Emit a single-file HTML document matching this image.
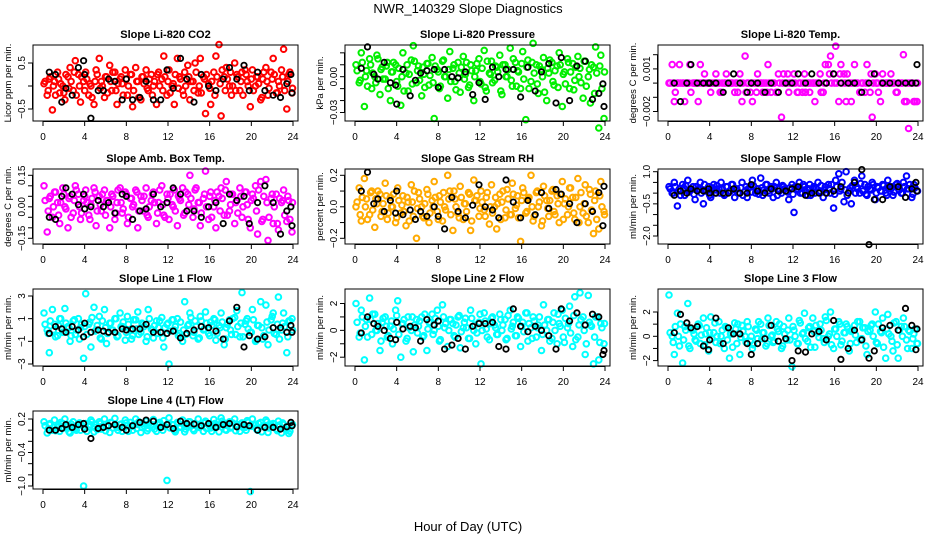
<!DOCTYPE html>
<html><head><meta charset="utf-8">
<style>
html,body{margin:0;padding:0;background:#fff;}
svg{display:block;font-family:"Liberation Sans",Arial,sans-serif;}
</style></head>
<body>
<svg id="chart" width="936" height="540" viewBox="0 0 936 540">
<text x="468" y="13" text-anchor="middle" font-size="13">NWR_140329  Slope Diagnostics</text>
<text x="468" y="531" text-anchor="middle" font-size="13">Hour of Day (UTC)</text>
</svg>
<script>
const hours = [0.1,0.4,0.6,0.9,1.1,1.4,1.6,1.9,2.1,2.4,2.6,2.9,3.1,3.4,3.6,3.9,4.1,4.4,4.6,4.9,5.1,5.4,5.6,5.9,6.1,6.4,6.6,6.9,7.1,7.4,7.6,7.9,8.1,8.4,8.6,8.9,9.1,9.4,9.6,9.9,10.1,10.4,10.6,10.9,11.1,11.4,11.6,11.9,12.1,12.4,12.6,12.9,13.1,13.4,13.6,13.9,14.1,14.4,14.6,14.9,15.1,15.4,15.6,15.9,16.1,16.4,16.6,16.9,17.1,17.4,17.6,17.9,18.1,18.4,18.6,18.9,19.1,19.4,19.6,19.9,20.1,20.4,20.6,20.9,21.1,21.4,21.6,21.9,22.1,22.4,22.6,22.9,23.1,23.4,23.6,23.9];
const hours2 = [0.2,0.5,0.7,1.0,1.2,1.5,1.7,2.0,2.2,2.5,2.7,3.0,3.2,3.5,3.7,4.0,4.2,4.5,4.7,5.0,5.2,5.5,5.7,6.0,6.2,6.5,6.7,7.0,7.2,7.5,7.7,8.0,8.2,8.5,8.7,9.0,9.2,9.5,9.7,10.0,10.2,10.5,10.7,11.0,11.2,11.5,11.7,12.0,12.2,12.5,12.7,13.0,13.2,13.5,13.7,14.0,14.2,14.5,14.7,15.0,15.2,15.5,15.7,16.0,16.2,16.5,16.7,17.0,17.2,17.5,17.7,18.0,18.2,18.5,18.7,19.0,19.2,19.5,19.7,20.0,20.2,20.5,20.7,21.0,21.2,21.5,21.7,22.0,22.2,22.5,22.7,23.0,23.2,23.5,23.7,23.95];
const refHours = [0.6,1.2,1.8,2.2,2.8,3.4,3.9,4.0,4.6,5.3,5.8,6.3,6.9,7.6,8.0,8.6,9.3,9.9,10.6,11.3,11.9,12.5,13.2,13.8,14.5,15.2,15.9,16.6,17.3,17.9,18.6,19.3,19.8,20.6,21.3,22.1,22.8,23.4,23.8,23.9];
const xTicks = [0,4,8,12,16,20,24];

const co2 = [0.05,-0.2,0.15,-0.52,0.1,0.3,-0.15,0.0,-0.3,0.2,0.4,-0.1,0.55,0.25,-0.35,0.1,0.3,-0.2,0.0,-0.4,0.35,0.6,0.1,-0.25,0.2,0.45,-0.1,0.3,-0.4,0.15,0.05,0.35,-0.2,0.25,-0.45,0.4,0.1,-0.3,0.2,0.35,-0.1,0.25,0.0,-0.4,0.3,0.15,0.65,-0.2,0.35,0.0,-0.4,0.6,0.2,-0.1,0.3,0.45,-0.3,0.1,0.5,-0.15,0.6,0.2,-0.6,0.05,-0.4,0.3,0.65,0.9,-0.65,0.2,0.4,0.0,-0.2,0.5,0.25,-0.1,0.3,0.35,0.1,-0.45,0.35,0.0,0.2,-0.3,0.15,0.4,-0.2,0.3,0.6,-0.15,0.1,0.35,0.8,-0.5,0.25,-0.15];
const co2b = [0.1,-0.1,0.2,0.0,-0.2,0.15,0.05,-0.15,0.25,-0.05,0.1,0.3,-0.2,0.0,0.2,-0.1,0.15,0.05,-0.25,0.1,0.25,-0.05,0.0,0.2,-0.15,0.1,0.3,-0.1,0.05,0.2,-0.2,0.15,0.0,0.25,-0.1,0.1,-0.25,0.2,0.05,-0.05,0.15,-0.2,0.1,0.25,0.0,-0.1,0.2,0.1,-0.15,0.05,0.25,-0.05,0.15,-0.2,0.0,0.2,0.1,-0.1,0.3,0.0,-0.15,0.15,0.25,-0.05,0.1,-0.2,0.2,0.05,0.35,-0.1,0.15,0.3,0.0,-0.1,0.2,0.1,-0.2,0.25,0.0,0.15,-0.1,0.2,0.05,-0.25,0.3,0.1,-0.05,0.15,0.25,-0.15,0.0,0.2,-0.1,0.1,0.3,-0.05];
const co2Ref = [0.3,0.25,-0.35,-0.05,-0.2,0.4,0.55,0.25,-0.7,-0.1,-0.1,0.15,0.1,-0.3,0.15,-0.3,-0.25,0.1,-0.3,-0.3,0.35,-0.05,0.6,0.15,-0.35,0.25,0.0,-0.1,0.15,0.4,0.15,0.45,-0.1,0.3,-0.1,-0.2,-0.25,0.05,0.25,-0.15];
const pressure = [0.01,-0.005,0.02,-0.025,0.005,0.015,-0.01,0.0,0.018,-0.015,0.008,-0.002,0.012,-0.02,0.004,0.01,-0.008,-0.024,0.02,0.003,-0.012,0.014,0.026,-0.005,0.009,-0.016,0.002,0.011,-0.007,0.016,-0.035,0.006,-0.01,0.013,0.0,-0.018,0.021,0.007,-0.004,0.012,-0.013,0.017,0.002,-0.009,0.01,-0.02,0.005,0.015,-0.006,0.022,-0.012,0.003,0.013,-0.003,0.008,0.018,-0.015,0.01,0.0,0.024,-0.008,0.012,0.005,-0.01,0.021,-0.036,0.014,-0.004,0.028,0.01,-0.014,0.006,0.016,-0.02,0.003,0.012,-0.007,0.009,0.02,-0.025,0.004,0.015,-0.01,0.011,-0.003,0.017,0.007,-0.018,0.013,0.0,-0.022,0.008,0.025,-0.043,0.018,-0.035];
const pressureB = [0.005,-0.003,0.012,0.0,-0.008,0.01,0.003,-0.005,0.015,0.006,-0.002,0.009,-0.01,0.004,0.012,-0.004,0.007,0.0,-0.012,0.01,0.002,-0.006,0.013,0.005,-0.003,0.008,-0.009,0.011,0.001,-0.005,0.009,0.004,-0.008,0.014,0.0,0.006,-0.004,0.01,-0.011,0.003,0.008,-0.002,0.012,-0.007,0.005,0.0,0.011,-0.004,0.007,-0.009,0.013,0.002,-0.005,0.009,0.004,-0.012,0.01,0.0,0.006,-0.003,0.015,-0.008,0.004,0.011,-0.002,0.008,-0.01,0.012,0.003,-0.006,0.009,0.0,-0.013,0.007,0.014,-0.004,0.005,-0.009,0.01,0.002,-0.006,0.012,0.004,-0.011,0.008,0.0,-0.005,0.013,-0.008,0.006,0.01,-0.014,0.003,0.009,-0.01,0.004];
const pressureRef = [0.007,0.025,0.002,-0.002,0.012,-0.005,-0.007,-0.023,0.006,-0.016,-0.003,0.003,0.005,0.006,-0.009,0.006,0.0,-0.001,0.004,-0.015,-0.005,-0.019,0.008,0.0,0.006,0.006,-0.017,0.008,-0.012,0.004,0.011,-0.022,0.016,-0.02,0.009,0.013,-0.019,-0.014,-0.006,-0.025];
const licorTemp = [0,0.0013,-0.0013,0,0.0013,0,-0.0013,0,0.0013,0,0,-0.0013,0.0013,0,0,0,-0.00065,0,0.00065,0,-0.00065,0,0.00065,0,0,-0.00065,0,0.00065,-0.0013,0.0019,0,-0.00065,-0.0013,0,0.00065,0,-0.00065,0,0.0013,-0.00065,0,-0.00065,0.00065,-0.0024,0.00065,0,-0.00065,0,0.00065,-0.00065,0,-0.00065,0.00065,0,-0.00065,0,-0.0013,0,0.00065,-0.00065,0.0013,0.0013,0.0019,0.00065,0.0026,-0.0013,0.0013,0.00065,-0.0013,0,-0.0013,0.0013,0,-0.00065,0,-0.00065,0.0013,-0.00065,-0.0024,0.00065,0,-0.0013,0.00065,0,0,0.00065,0,-0.00065,0,0,0.002,-0.0013,-0.0032,0,-0.0013,-0.0013];
const licorTempB = [0,0,-0.00065,0,0,0,0,0,-0.00065,0,0,0,0,0.00065,0,0,0,0,0,-0.00065,0,0,0,0,0,0,-0.00065,0,0,-0.00065,0,0,0,-0.00065,0,0,0,-0.00065,0,0,0,-0.00065,0,0,0,0.00065,0,0,0,-0.00065,0,0,-0.00065,0,0,0,0,0,-0.00065,0,0,0.00065,0,0,0,0.00065,0,0,0.00065,0,0,0,0,-0.00065,0,0,0,0.00065,0,0,-0.00065,0,0,0,0,0,0,-0.00065,0,0,-0.0013,0,0,0,-0.0013,0];
const licorTempRef = [0,-0.0013,0,0.0013,0,0,0,0,0,-0.00065,0,0.00065,0,-0.00065,0,0,-0.00065,0,-0.00065,0,0,0.00065,0,0.00065,0,0,0.00065,0,0,0,-0.00065,0,0.00065,0,0,0,0,0,0,0.0013];
const boxTemp = [0.1,-0.12,0.04,-0.05,0.07,0.02,-0.08,0.09,0.0,-0.1,0.05,-0.03,0.1,0.06,-0.06,0.03,0.08,-0.04,0.01,0.09,-0.09,0.05,-0.02,0.08,0.03,-0.1,0.06,-0.06,0.02,0.09,-0.03,0.07,-0.08,0.04,0.0,0.08,-0.1,0.05,-0.02,0.09,-0.05,0.03,0.07,-0.08,0.02,0.1,-0.04,0.06,-0.06,0.01,0.08,-0.09,0.04,0.09,-0.03,0.06,0.15,-0.05,0.08,0.02,-0.09,0.04,0.17,-0.06,0.07,0.0,-0.1,0.05,0.09,-0.04,0.12,-0.02,0.06,-0.08,0.03,0.09,-0.05,0.07,0.01,-0.1,0.06,0.1,-0.13,0.12,-0.06,0.13,-0.16,0.04,-0.08,0.06,-0.11,0.02,0.08,-0.07,0.03,-0.12];
const boxTempB = [0.03,-0.02,0.05,0.0,0.07,-0.04,0.02,0.06,-0.01,0.04,-0.05,0.03,0.08,0.0,-0.03,0.05,0.02,-0.06,0.04,0.07,-0.02,0.01,0.06,-0.04,0.03,0.0,0.05,-0.03,0.08,0.02,-0.01,0.06,-0.05,0.04,0.01,0.07,-0.02,0.03,0.05,-0.04,0.0,0.06,0.02,-0.03,0.08,0.01,-0.05,0.04,0.06,0.0,-0.02,0.05,0.03,-0.04,0.07,0.01,0.04,-0.01,0.09,0.02,-0.03,0.06,0.0,0.05,-0.05,0.03,0.07,-0.02,0.04,0.08,-0.04,0.01,0.06,0.02,-0.03,0.05,0.0,0.07,-0.06,0.03,0.04,-0.02,0.08,-0.07,0.05,0.02,-0.05,0.06,0.0,-0.08,0.04,0.03,-0.04,0.05,-0.06,0.02];
const boxTempRef = [-0.05,-0.06,0.05,0.09,0.06,0.01,0.06,-0.01,0.0,0.03,0.0,0.02,-0.03,0.06,0.05,-0.06,-0.02,-0.01,0.06,0.0,0.02,0.09,0.06,-0.02,-0.02,-0.05,0.0,0.02,-0.08,0.06,0.03,0.05,-0.08,0.02,0.1,0.02,-0.13,-0.02,0.0,-0.09];
const rh = [0.0,0.12,-0.09,0.18,0.05,-0.05,0.1,-0.13,0.02,0.08,-0.03,0.15,-0.08,0.06,0.0,-0.1,0.12,-0.04,0.07,-0.12,0.03,0.14,-0.06,-0.2,0.09,0.0,-0.07,0.11,-0.1,0.04,0.16,-0.03,0.07,-0.09,0.0,0.2,0.1,-0.15,0.05,-0.04,0.13,-0.08,0.02,0.09,-0.15,0.17,0.04,-0.06,0.1,-0.02,0.06,-0.11,0.14,0.0,-0.14,0.08,0.03,-0.07,0.11,-0.05,0.15,-0.01,0.07,-0.22,0.12,-0.04,0.05,0.2,-0.09,0.09,0.0,-0.12,0.13,0.04,-0.06,0.1,-0.03,0.07,-0.1,0.16,0.02,-0.05,0.12,0.06,-0.08,0.18,0.0,-0.04,0.14,-0.1,0.08,-0.17,0.1,-0.14,0.16,-0.03];
const rhB = [0.03,-0.05,0.06,0.0,-0.08,0.09,-0.02,0.05,0.1,-0.06,0.02,0.07,-0.04,0.0,0.08,-0.07,0.04,0.01,-0.03,0.06,-0.09,0.03,0.1,-0.01,0.05,-0.06,0.02,0.08,-0.04,0.0,0.06,-0.08,0.03,0.09,-0.02,0.05,-0.05,0.1,0.0,-0.07,0.06,0.02,-0.03,0.08,-0.09,0.04,0.07,-0.01,0.03,-0.06,0.09,0.0,-0.04,0.06,0.02,-0.08,0.1,-0.02,0.05,-0.05,0.08,0.01,-0.07,0.04,0.09,-0.03,0.06,0.0,-0.06,0.1,0.03,-0.09,0.07,-0.01,0.04,0.11,-0.05,0.02,0.08,-0.08,0.05,0.0,0.12,-0.04,0.06,-0.1,0.09,0.02,-0.06,0.11,-0.02,0.04,-0.08,0.07,0.0,-0.05];
const rhRef = [0.1,0.22,0.02,0.05,-0.03,0.04,-0.04,0.1,-0.05,-0.02,-0.08,-0.03,-0.06,0.0,-0.06,-0.14,0.06,-0.03,-0.07,0.01,0.14,0.0,-0.02,-0.07,0.17,0.03,-0.07,0.04,-0.05,0.09,-0.01,0.11,0.08,0.02,-0.1,0.02,-0.03,0.09,-0.12,0.13];
const sampleFlow = [0.3,0.0,0.5,-0.6,0.2,0.4,-0.1,0.6,0.1,0.3,-0.3,0.2,0.5,-0.5,0.1,0.3,-0.2,0.4,0.0,0.2,0.5,-0.1,0.3,0.1,0.4,-0.2,0.2,0.0,0.5,0.1,-0.2,0.3,0.6,0.0,0.2,0.7,-0.1,0.4,0.1,0.3,-0.2,0.5,0.2,0.0,0.3,0.1,-0.3,0.4,-0.9,0.2,0.5,0.0,0.3,-0.1,0.4,0.2,0.0,0.5,0.1,-0.2,0.3,0.4,0.0,-0.7,0.6,0.9,0.2,-0.4,1.0,0.1,-0.5,0.6,0.3,0.0,0.8,0.4,-0.1,0.2,0.5,-0.3,0.3,0.1,0.4,0.0,0.6,0.2,-0.1,0.4,0.3,0.0,0.5,0.8,0.2,-0.2,0.4,0.1];
const sampleFlowB = [0.2,0.0,0.3,0.1,-0.1,0.25,0.35,0.05,0.15,-0.05,0.3,0.2,0.0,0.4,0.1,-0.1,0.25,0.15,0.35,0.0,0.2,-0.05,0.3,0.1,0.4,0.15,0.0,0.25,-0.1,0.3,0.2,0.05,0.35,0.1,-0.05,0.25,0.15,0.4,0.0,0.2,0.3,-0.1,0.1,0.35,0.2,0.05,0.25,-0.05,0.3,0.15,0.0,0.4,0.1,0.2,-0.1,0.3,0.25,0.05,0.35,0.15,0.0,0.2,0.4,-0.05,0.3,0.1,0.5,0.15,-0.1,0.25,0.35,0.0,0.2,0.45,0.1,-0.05,0.3,0.15,0.4,0.0,0.25,0.1,0.35,-0.1,0.2,0.3,0.05,0.45,0.15,0.0,0.3,0.2,0.4,-0.05,0.25,0.1];
const sampleFlowRef = [-0.1,0.1,0.0,0.2,0.1,0.1,0.2,0.0,0.0,0.0,0.0,0.2,0.0,0.0,0.4,0.1,0.0,0.2,0.1,0.1,0.2,0.3,-0.1,0.0,0.0,0.0,0.1,0.3,0.0,0.5,1.1,-2.4,-0.3,-0.3,0.3,0.3,-0.2,0.2,0.5,0.1];
const line1 = [1.5,0.0,-2.0,1.8,0.5,-0.5,1.0,-0.2,1.9,0.3,-1.0,0.8,-0.4,1.0,0.2,-2.5,3.2,0.5,-1.5,2.0,0.0,1.2,-0.8,1.8,-1.2,0.6,0.0,1.0,-0.6,1.5,0.3,-0.9,1.2,0.0,-0.5,0.9,1.6,-0.2,0.5,-1.0,1.8,0.1,-0.7,0.8,0.2,1.1,-1.5,0.5,-3.0,0.9,0.0,1.0,-0.3,-1.0,2.5,0.4,1.5,-0.5,0.8,-0.8,1.2,0.0,1.6,-0.3,0.7,1.0,-0.9,0.4,1.5,-1.3,0.2,0.9,-0.4,1.1,1.7,-0.6,3.3,0.5,1.0,-0.2,1.8,-1.0,0.4,2.5,-0.8,2.2,-1.3,0.9,1.5,-0.4,2.9,0.0,1.5,-2.0,0.8,1.0];
const line1B = [0.5,-0.3,0.8,0.0,-0.6,0.4,1.0,-0.2,0.6,0.2,-0.5,0.9,0.0,-0.8,0.5,0.3,-0.4,0.7,1.1,-0.1,0.4,-0.7,0.8,0.2,-0.3,0.6,0.0,1.0,-0.5,0.3,0.7,-0.2,0.5,-0.8,0.9,0.1,-0.4,0.6,0.3,-0.6,1.0,0.0,0.4,-0.3,0.8,-0.7,0.2,0.6,-0.1,0.9,0.3,-0.5,0.7,0.0,-0.4,0.5,1.1,-0.2,0.3,-0.7,0.8,0.1,0.6,-0.5,0.4,0.9,-0.3,0.2,0.7,-0.8,0.5,0.0,1.0,-0.4,0.3,0.6,-0.6,0.8,0.1,-0.2,0.9,-0.9,0.4,0.2,-0.5,0.7,0.0,1.2,-0.3,0.5,-0.8,0.6,0.3,-0.6,0.8,0.0];
const line1Ref = [-0.3,0.3,0.1,-0.2,0.3,0.0,-0.6,0.6,-0.2,0.0,-0.1,-0.2,-0.2,0.1,0.0,0.1,0.1,0.5,-0.2,-0.2,-0.3,-0.1,-0.7,-0.3,0.0,0.3,0.2,-0.1,-0.8,0.8,2.0,-1.5,-0.5,-0.8,-0.6,0.2,0.2,-0.2,0.4,-0.2];
const line2 = [2.0,-0.5,1.5,-2.2,0.8,2.4,-0.3,1.2,0.0,-1.5,0.6,1.0,-0.5,0.3,-1.0,1.5,2.2,-2.0,0.5,-0.8,1.0,0.0,-1.6,0.8,0.3,1.0,-0.4,-1.5,0.6,1.2,0.0,1.5,-0.8,1.9,0.2,-1.2,0.8,0.5,-0.5,1.0,-1.3,0.2,0.9,-0.6,1.5,0.0,-1.0,0.6,-2.5,1.3,0.1,-0.7,0.9,0.4,-0.3,1.2,0.0,0.8,-0.6,1.5,0.3,-0.4,1.0,-1.2,0.6,1.3,-0.8,0.2,1.0,-0.5,0.4,-1.5,1.9,0.0,0.8,-0.6,1.3,-1.0,0.5,1.5,-0.9,0.2,1.8,-1.2,2.5,-0.5,2.8,1.0,-1.8,2.6,0.4,-2.5,1.0,-2.2,0.5,-1.0];
const line2B = [0.6,-0.2,1.0,0.3,-0.5,0.8,1.2,0.0,0.5,-0.8,0.9,0.3,-0.4,0.7,0.1,1.1,-0.3,0.5,0.8,-0.6,0.2,1.0,0.4,-0.2,0.7,-0.5,1.2,0.1,0.6,-0.3,0.9,0.3,-0.7,1.0,0.5,0.0,0.8,-0.4,0.4,1.1,-0.1,0.6,0.2,-0.6,0.9,0.4,-0.2,1.2,0.0,0.7,-0.5,0.5,1.0,0.2,-0.3,0.8,0.4,-0.7,1.1,0.1,0.6,-0.4,0.9,0.3,-0.1,1.3,0.5,-0.6,0.7,0.2,1.0,-0.3,0.4,0.8,-0.8,0.6,0.0,1.2,0.3,-0.5,0.9,0.5,-0.2,1.1,-0.7,0.4,0.8,0.0,-1.0,0.6,0.3,-0.5,1.0,-0.9,0.2,0.5];
const line2Ref = [-0.2,1.0,0.5,0.3,0.0,-0.6,-0.7,0.6,0.1,0.3,0.2,-0.8,0.8,0.4,0.7,-1.4,-1.1,-0.6,-1.4,0.3,0.5,0.5,0.6,-1.2,-1.4,1.6,0.3,-0.1,0.3,0.0,-0.4,-1.4,1.6,0.7,1.3,0.4,1.2,1.0,-1.8,-1.5];
const line3 = [3.4,0.0,-1.5,1.9,-0.8,-2.2,0.8,2.7,-1.0,0.5,-0.3,1.0,-0.6,1.5,0.2,-1.2,1.6,0.3,-0.5,1.2,0.0,-1.0,0.7,-1.8,0.2,1.1,-0.6,-1.5,0.9,0.0,1.2,-0.4,-1.0,0.6,-0.2,1.0,0.3,-0.8,1.5,0.0,-0.5,1.2,0.4,-1.0,0.8,-0.3,1.5,-2.5,0.5,-0.6,1.3,0.2,1.9,-0.4,0.8,1.5,-0.9,0.3,1.0,-0.2,1.6,0.0,2.0,-1.0,0.6,1.2,-0.7,0.3,1.0,-1.2,0.4,0.9,-0.5,1.2,-0.2,0.7,-1.5,0.5,1.0,2.0,-0.6,0.4,1.5,-1.8,1.8,0.0,-1.2,1.2,-1.8,0.8,1.5,-0.3,0.5,-1.0,0.2,-0.6];
const line3B = [0.3,-0.5,0.8,0.0,1.0,-0.3,0.5,-0.8,0.6,0.2,-0.4,0.9,0.1,-0.7,0.7,0.3,-0.2,1.1,0.0,-0.6,0.5,0.8,-0.3,0.2,-0.9,0.6,1.0,-0.1,0.4,-0.5,0.8,0.0,-0.7,0.5,1.2,-0.2,0.3,-0.6,0.9,0.1,-0.4,0.6,1.0,-0.8,0.2,0.5,-0.3,0.8,0.0,-0.6,1.1,0.3,-0.2,0.7,-0.9,0.4,0.9,-0.1,0.5,-0.5,1.3,0.2,-0.7,0.6,0.0,1.0,-0.4,0.3,0.8,-0.6,0.5,0.1,1.2,-0.3,0.7,-0.8,0.4,0.9,0.0,-0.5,1.0,0.3,-0.9,0.6,0.2,-0.4,1.1,-0.7,0.5,0.0,0.8,-1.0,0.4,-0.2,0.6,-0.6];
const line3Ref = [0.3,1.8,1.1,0.7,0.8,-0.8,-1.1,-0.3,1.5,-0.6,0.7,0.2,0.2,-0.6,-1.5,-0.6,-0.2,0.9,-0.4,-0.2,-2.0,-1.2,-1.3,0.2,0.4,-0.3,1.3,-1.9,-1.0,0.5,-0.3,-1.8,-1.2,0.7,0.9,0.5,2.3,0.9,-1.1,0.6];
const line4 = [0.15,-0.05,0.1,0.0,0.18,0.05,-0.02,0.12,0.2,0.08,-0.05,0.15,0.03,0.1,0.0,-1.0,0.12,0.06,0.18,-0.03,0.1,0.15,0.02,0.2,0.07,-0.04,0.13,0.21,0.05,0.1,-0.02,0.18,0.08,0.14,0.0,0.2,0.1,-0.04,0.12,0.16,0.03,0.09,0.19,-0.02,0.11,0.06,0.17,-0.9,0.22,0.1,0.0,0.14,0.05,0.18,-0.03,0.09,0.15,0.02,0.12,0.2,0.06,-0.02,0.16,0.1,0.04,0.19,0.08,-0.03,0.22,0.12,0.0,0.15,0.06,0.2,0.1,-0.02,0.13,0.05,0.17,-1.1,0.2,0.09,0.0,0.14,0.07,0.18,-0.04,0.1,0.12,0.02,0.16,-0.05,0.1,0.0,-0.06,0.08];
const line4B = [0.08,0.02,0.12,0.05,-0.01,0.1,0.14,0.04,0.07,-0.03,0.11,0.06,0.0,0.13,0.09,0.03,-0.02,0.1,0.15,0.05,0.01,0.12,0.07,-0.01,0.09,0.14,0.04,0.08,0.0,0.11,0.06,0.13,-0.02,0.07,0.1,0.03,0.15,0.05,0.08,-0.01,0.12,0.06,0.02,0.1,0.14,0.0,0.07,0.11,0.04,0.09,-0.03,0.13,0.06,0.1,0.02,0.15,0.08,-0.01,0.11,0.05,0.09,0.13,0.03,0.07,-0.02,0.12,0.06,0.1,0.16,0.01,0.08,0.04,0.13,-0.01,0.09,0.11,0.05,0.0,0.14,0.07,0.1,0.02,0.12,-0.03,0.08,0.15,0.04,0.06,0.11,-0.01,0.09,0.13,0.03,0.07,-0.02,0.1];
const line4Ref = [0.0,0.0,0.03,0.1,0.05,0.1,0.12,0.02,-0.15,0.03,0.05,0.08,0.1,0.05,0.0,0.08,0.14,0.18,0.16,0.05,0.1,0.03,0.16,0.12,0.11,0.08,0.12,0.05,0.1,0.12,0.06,0.1,0.08,0.0,0.05,0.05,0.02,0.06,0.14,0.08];

const NS = 'http://www.w3.org/2000/svg';
const svg = document.getElementById('chart');
function mk(tag, attrs, parent){const e=document.createElementNS(NS,tag);for(const k in attrs)e.setAttribute(k,attrs[k]);(parent||svg).appendChild(e);return e;}

const panels = [
 {key:'co2',title:'Slope Li-820 CO2',ylab:'Licor ppm per min.',L:33,T:45,B:121,yA:0.5,pA:63,yB:-0.5,pB:109,ticks:[-0.5,0,0.5],labels:{'0.5':'0.5','-0.5':'\u22120.5'},col:'#ff0000',v:co2,v2:co2b,r:co2Ref},
 {key:'pressure',title:'Slope Li-820 Pressure',ylab:'kPa per min.',L:345,T:45,B:121,yA:0,pA:76.7,yB:-0.03,pB:112.5,ticks:[0.02,0.01,0,-0.01,-0.02,-0.03],labels:{'0':'0.00','-0.03':'\u22120.03'},col:'#00ee00',v:pressure,v2:pressureB,r:pressureRef},
 {key:'licor-temp',title:'Slope Li-820 Temp.',ylab:'degrees C per min.',L:658,T:45,B:121,yA:0,pA:83.1,yB:-0.002,pB:111.5,ticks:[0.002,0.001,0,-0.001,-0.002],labels:{'0.001':'0.001','-0.002':'\u22120.002'},col:'#ff00ff',v:licorTemp,v2:licorTempB,r:licorTempRef},
 {key:'box-temp',title:'Slope Amb. Box Temp.',ylab:'degrees C per min.',L:33,T:169,B:244,yA:0.15,pA:175.3,yB:0,pB:206.8,ticks:[0.15,0.1,0.05,0,-0.05,-0.1,-0.15],labels:{'0.15':'0.15','0':'0.00','-0.15':'\u22120.15'},col:'#ff00ff',v:boxTemp,v2:boxTempB,r:boxTempRef},
 {key:'rh',title:'Slope Gas Stream RH',ylab:'percent per min.',L:345,T:169,B:244,yA:0.2,pA:175.3,yB:0,pB:206.8,ticks:[0.2,0.1,0,-0.1,-0.2],labels:{'0.2':'0.2','0':'0.0','-0.2':'\u22120.2'},col:'#ffaa00',v:rh,v2:rhB,r:rhRef},
 {key:'sample-flow',title:'Slope Sample Flow',ylab:'ml/min per min.',L:658,T:169,B:244,yA:1,pA:171.7,yB:-2,pB:236,ticks:[1,0.5,0,-0.5,-1,-1.5,-2],labels:{'1':'1.0','-0.5':'\u22120.5','-2':'\u22122.0'},col:'#0000ff',v:sampleFlow,v2:sampleFlowB,r:sampleFlowRef},
 {key:'line1-flow',title:'Slope Line 1 Flow',ylab:'ml/min per min.',L:33,T:289,B:366,yA:3,pA:296,yB:-3,pB:364,ticks:[3,1,-1,-3],labels:{'3':'3','1':'1','-1':'\u22121','-3':'\u22123'},col:'#00ffff',v:line1,v2:line1B,r:line1Ref},
 {key:'line2-flow',title:'Slope Line 2 Flow',ylab:'ml/min per min.',L:345,T:289,B:366,yA:2,pA:303.5,yB:-2,pB:357.2,ticks:[2,1,0,-1,-2],labels:{'2':'2','0':'0','-2':'\u22122'},col:'#00ffff',v:line2,v2:line2B,r:line2Ref},
 {key:'line3-flow',title:'Slope Line 3 Flow',ylab:'ml/min per min.',L:658,T:289,B:366,yA:2,pA:312,yB:-2,pB:360.6,ticks:[2,1,0,-1,-2],labels:{'2':'2','0':'0','-2':'\u22122'},col:'#00ffff',v:line3,v2:line3B,r:line3Ref},
 {key:'line4-flow',title:'Slope Line 4 (LT) Flow',ylab:'ml/min per min.',L:33,T:411,B:489,yA:0.2,pA:419,yB:-1,pB:486,ticks:[0.2,0,-0.2,-0.4,-0.6,-0.8,-1],labels:{'0.2':'0.2','-0.4':'\u22120.4','-1':'\u22121.0'},col:'#00ffff',v:line4,v2:line4B,r:line4Ref}
];
const W = 265;

panels.forEach(p=>{
  const g = mk('g',{});
  
  
  const xs = h => p.L + 10 + h*(250/24);
  const ys = v => p.pA + (v - p.yA)*(p.pB - p.pA)/(p.yB - p.yA);
  const cx = p.L + W/2;
  const t = mk('text',{x:cx,y:p.T-7,'text-anchor':'middle','font-size':'11','font-weight':'bold'},g);
  t.textContent = p.title;
  
  
  const pts = mk('g',{},g);
  
  
  const n2 = Math.min(hours2.length, p.v2.length);
  for(let i=0;i<n2;i++){
    const c = mk('circle',{cx:xs(hours2[i]).toFixed(1),cy:ys(p.v2[i]).toFixed(1),r:'2.8',fill:'none',stroke:p.col,'stroke-width':'2'},pts);
    
    
  }
  const n = Math.min(hours.length, p.v.length);
  for(let i=0;i<n;i++){
    const c = mk('circle',{cx:xs(hours[i]).toFixed(1),cy:ys(p.v[i]).toFixed(1),r:'2.8',fill:'none',stroke:p.col,'stroke-width':'2'},pts);
    
    
  }
  const m = Math.min(refHours.length, p.r.length);
  for(let i=0;i<m;i++){
    const c = mk('circle',{cx:xs(refHours[i]).toFixed(1),cy:ys(p.r[i]).toFixed(1),r:'2.7',fill:'none',stroke:'#000','stroke-width':'1.8'},pts);
    
    
  }
  const box = mk('rect',{x:p.L,y:p.T,width:W,height:p.B-p.T,fill:'none',stroke:'#000','stroke-width':'1'},g);
  
  
  const xa = mk('g',{},g);
  
  
  mk('line',{x1:xs(0),x2:xs(24),y1:p.B+0.5,y2:p.B+0.5,stroke:'#000'},xa);
  xTicks.forEach(h=>{
    mk('line',{x1:xs(h),x2:xs(h),y1:p.B,y2:p.B+5,stroke:'#000'},xa);
    const tl = mk('text',{x:xs(h),y:p.B+19,'text-anchor':'middle','font-size':'10'},xa);
    tl.textContent = h;
    
    
  });
  const ya = mk('g',{},g);
  
  
  const tv = p.ticks.map(ys);
  mk('line',{x1:p.L-0.5,x2:p.L-0.5,y1:Math.min(...tv),y2:Math.max(...tv),stroke:'#000'},ya);
  p.ticks.forEach(v=>{
    const y = ys(v);
    mk('line',{x1:p.L-5,x2:p.L,y1:y,y2:y,stroke:'#000'},ya);
    const lab = p.labels[String(v)];
    if(lab){
      const tl = mk('text',{x:p.L-8,y:y,'text-anchor':'middle','font-size':'10',transform:`rotate(-90 ${p.L-8} ${y})`},ya);
      tl.textContent = lab;
      
      
    }
  });
  const my = (p.T+p.B)/2;
  const yt = mk('text',{x:p.L-22,y:my,'text-anchor':'middle','font-size':'9.5',transform:`rotate(-90 ${p.L-22} ${my})`},g);
  yt.textContent = p.ylab;
  
  
});
</script>
</body></html>
